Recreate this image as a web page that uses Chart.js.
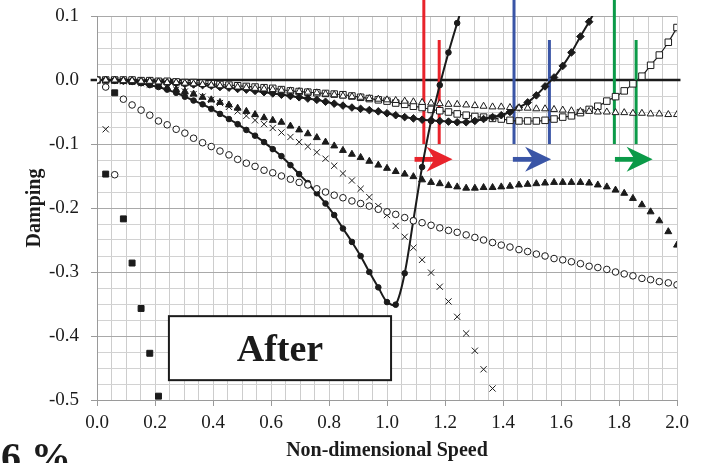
<!DOCTYPE html>
<html>
<head>
<meta charset="utf-8">
<script src="https://cdn.jsdelivr.net/npm/chart.js@4.4.0/dist/chart.umd.min.js"></script>
<style>
  html, body { margin: 0; padding: 0; background: #fff; }
  #wrap { width: 704px; height: 463px; }
</style>
</head>
<body>
<div id="wrap"><canvas id="chart" width="704" height="463"></canvas></div>
<script>
// ===== DATA =====
const speeds = [
  0, 0.030, 0.061, 0.091, 0.121, 0.152, 0.182, 0.212, 0.242, 0.273,
  0.303, 0.333, 0.364, 0.394, 0.424, 0.455, 0.485, 0.515, 0.545, 0.576,
  0.606, 0.636, 0.667, 0.697, 0.727, 0.758, 0.788, 0.818, 0.848, 0.879,
  0.909, 0.939, 0.970, 1.000, 1.030, 1.061, 1.091, 1.121, 1.152, 1.182,
  1.212, 1.242, 1.273, 1.303, 1.333, 1.364, 1.394, 1.424, 1.455, 1.485,
  1.515, 1.545, 1.576, 1.606, 1.636, 1.667, 1.697, 1.727, 1.758, 1.788,
  1.818, 1.848, 1.879, 1.909, 1.939, 1.970, 2.000
];

// filled squares (no line)
const squareFilled = [null, -0.147, -0.020, -0.217, -0.286, -0.357, -0.427, -0.494];

// open circles (no line)
const circleOpen = [
  0, -0.011, -0.148, -0.030, -0.039, -0.047, -0.055, -0.064, -0.070, -0.077,
  -0.083, -0.091, -0.098, -0.104, -0.111, -0.117, -0.124, -0.130, -0.135, -0.141,
  -0.145, -0.150, -0.155, -0.160, -0.164, -0.170, -0.175, -0.180, -0.184, -0.189,
  -0.193, -0.197, -0.202, -0.206, -0.210, -0.215, -0.220, -0.223, -0.227, -0.231,
  -0.235, -0.238, -0.242, -0.246, -0.250, -0.254, -0.258, -0.261, -0.265, -0.268,
  -0.272, -0.275, -0.279, -0.281, -0.284, -0.287, -0.291, -0.293, -0.296, -0.300,
  -0.303, -0.306, -0.310, -0.312, -0.315, -0.317, -0.320
];

// crosses (no line)
const crosses = [
  0, -0.077, -0.001, -0.002, -0.003, -0.005, -0.007, -0.009, -0.012, -0.015,
  -0.018, -0.022, -0.026, -0.031, -0.036, -0.042, -0.049, -0.056, -0.063, -0.069,
  -0.075, -0.082, -0.089, -0.097, -0.104, -0.113, -0.123, -0.134, -0.146, -0.157,
  -0.170, -0.183, -0.197, -0.211, -0.228, -0.245, -0.262, -0.281, -0.301, -0.323,
  -0.346, -0.370, -0.396, -0.423, -0.452, -0.482
];

// filled triangles (no line)
const triangleFilled = [
  0, 0, -0.001, -0.002, -0.003, -0.004, -0.006, -0.008, -0.012, -0.015,
  -0.018, -0.022, -0.027, -0.031, -0.035, -0.039, -0.044, -0.049, -0.054, -0.059,
  -0.063, -0.066, -0.072, -0.078, -0.084, -0.090, -0.097, -0.103, -0.110, -0.116,
  -0.121, -0.127, -0.133, -0.138, -0.143, -0.147, -0.151, -0.156, -0.160, -0.162,
  -0.165, -0.167, -0.169, -0.169, -0.168, -0.168, -0.167, -0.166, -0.164, -0.163,
  -0.162, -0.161, -0.160, -0.160, -0.160, -0.160, -0.161, -0.164, -0.167, -0.172,
  -0.177, -0.185, -0.195, -0.206, -0.220, -0.237, -0.258
];

// filled circles (smoothed line)
const circleFilled = [
  0, 0, -0.001, -0.002, -0.003, -0.005, -0.008, -0.011, -0.015, -0.020,
  -0.026, -0.032, -0.038, -0.045, -0.053, -0.061, -0.069, -0.078, -0.087, -0.097,
  -0.108, -0.119, -0.133, -0.147, -0.161, -0.177, -0.193, -0.211, -0.232, -0.253,
  -0.275, -0.300, -0.324, -0.347, -0.351, -0.302, -0.219, -0.136, -0.064, -0.008,
  0.043, 0.089, 0.135
];

// filled diamonds (smoothed line)
const diamondFilled = [
  0, 0, 0, -0.001, -0.001, -0.002, -0.002, -0.003, -0.004, -0.005,
  -0.006, -0.007, -0.008, -0.009, -0.011, -0.012, -0.014, -0.015, -0.017, -0.019,
  -0.021, -0.023, -0.025, -0.027, -0.029, -0.031, -0.034, -0.037, -0.040, -0.043,
  -0.045, -0.047, -0.049, -0.052, -0.055, -0.058, -0.060, -0.062, -0.063, -0.064,
  -0.065, -0.066, -0.066, -0.064, -0.061, -0.058, -0.055, -0.050, -0.043, -0.035,
  -0.024, -0.010, 0.004, 0.022, 0.043, 0.068, 0.091, 0.116
];

// open squares (smoothed line)
const squareOpen = [
  0, 0, 0, 0, 0, -0.001, -0.001, -0.002, -0.002, -0.003,
  -0.004, -0.004, -0.005, -0.006, -0.007, -0.008, -0.009, -0.010, -0.011, -0.012,
  -0.013, -0.015, -0.017, -0.018, -0.019, -0.020, -0.021, -0.022, -0.023, -0.025,
  -0.027, -0.029, -0.031, -0.033, -0.036, -0.038, -0.041, -0.043, -0.046, -0.048,
  -0.050, -0.053, -0.055, -0.057, -0.058, -0.060, -0.061, -0.063, -0.064, -0.064,
  -0.064, -0.063, -0.061, -0.058, -0.056, -0.051, -0.046, -0.041, -0.033, -0.026,
  -0.017, -0.006, 0.006, 0.023, 0.039, 0.059, 0.082
];

// open triangles (no line)
const triangleOpen = [
  0, 0, 0, -0.001, -0.001, -0.002, -0.002, -0.003, -0.004, -0.004,
  -0.005, -0.006, -0.007, -0.008, -0.009, -0.010, -0.011, -0.012, -0.013, -0.014,
  -0.015, -0.016, -0.017, -0.018, -0.019, -0.020, -0.022, -0.023, -0.025, -0.026,
  -0.027, -0.029, -0.030, -0.031, -0.032, -0.033, -0.034, -0.035, -0.036, -0.037,
  -0.038, -0.038, -0.039, -0.040, -0.041, -0.042, -0.042, -0.043, -0.044, -0.044,
  -0.045, -0.045, -0.046, -0.047, -0.048, -0.049, -0.049, -0.050, -0.050, -0.051,
  -0.051, -0.052, -0.052, -0.053, -0.053, -0.054, -0.054
];

// markers drawn over the plot (speed values)
const redLines = [1.127, 1.180];
const blueLines = [1.438, 1.560];
const greenLines = [1.784, 1.859];
const arrowSpans = [[1.095, 1.226], [1.434, 1.566], [1.786, 1.916]];
const arrowColors = ['#e8232b', '#3a55a6', '#0b9a48'];

// ===== STYLE =====
const INK = '#1b1b1b';
const SERIF = '"Liberation Serif", "Times New Roman", serif';

const toPoints = vals => speeds
  .map((x, i) => ({ x, y: vals[i] }))
  .filter(p => p.y !== null && p.y !== undefined);

function markers(data, style, radius, fill, order) {
  return {
    data: toPoints(data), showLine: false, order,
    pointStyle: style, pointRadius: radius,
    pointBackgroundColor: fill, pointBorderColor: INK, pointBorderWidth: 1,
    borderColor: INK
  };
}

function curve(data, style, radius, fill, lineWidth, order) {
  return {
    data: toPoints(data), showLine: true, order,
    borderColor: INK, borderWidth: lineWidth, tension: 0.3,
    pointStyle: style, pointRadius: radius,
    pointBackgroundColor: fill, pointBorderColor: INK, pointBorderWidth: 1
  };
}

const isMult = (v, step) => Math.abs(v / step - Math.round(v / step)) < 1e-6;

// ===== OVERLAY PLUGIN =====
const overlays = {
  id: 'overlays',
  beforeDatasetsDraw(chart) {
    const { ctx, scales: { x, y } } = chart;
    ctx.save();
    // thick zero line
    ctx.strokeStyle = INK;
    ctx.lineWidth = 2.6;
    ctx.beginPath();
    ctx.moveTo(x.getPixelForValue(-0.022), y.getPixelForValue(0));
    ctx.lineTo(x.getPixelForValue(2.012), y.getPixelForValue(0));
    ctx.stroke();

    // coloured onset lines: tall one from top edge, short one from 0.0625
    const groups = [redLines, blueLines, greenLines];
    groups.forEach((pair, gi) => {
      ctx.strokeStyle = arrowColors[gi];
      ctx.lineWidth = 3;
      pair.forEach((v, j) => {
        const px = x.getPixelForValue(v);
        ctx.beginPath();
        ctx.moveTo(px, j === 0 ? 0 : y.getPixelForValue(0.0625));
        ctx.lineTo(px, y.getPixelForValue(-0.1));
        ctx.stroke();
      });
    });

    // arrows
    const ay = y.getPixelForValue(-0.124);
    arrowSpans.forEach(([a, b], i) => {
      const x0 = x.getPixelForValue(a), x1 = x.getPixelForValue(b);
      ctx.fillStyle = arrowColors[i];
      ctx.fillRect(x0, ay - 2.4, (x1 - 16) - x0, 4.8);
      ctx.beginPath();
      ctx.moveTo(x1, ay);
      ctx.lineTo(x1 - 26, ay - 12.5);
      ctx.lineTo(x1 - 18, ay);
      ctx.lineTo(x1 - 26, ay + 12.5);
      ctx.closePath();
      ctx.fill();
    });
    ctx.restore();
  },
  afterDraw(chart) {
    const { ctx, scales: { x, y } } = chart;
    ctx.save();
    // "After" box
    const bx0 = x.getPixelForValue(0.248), bx1 = x.getPixelForValue(1.014);
    const by0 = y.getPixelForValue(-0.369), by1 = y.getPixelForValue(-0.469);
    ctx.fillStyle = '#fff';
    ctx.fillRect(bx0, by0, bx1 - bx0, by1 - by0);
    ctx.strokeStyle = INK;
    ctx.lineWidth = 2;
    ctx.strokeRect(bx0, by0, bx1 - bx0, by1 - by0);
    ctx.fillStyle = INK;
    ctx.font = 'bold 38px ' + SERIF;
    ctx.textAlign = 'center';
    ctx.textBaseline = 'alphabetic';
    ctx.fillText('After', (bx0 + bx1) / 2, (by0 + by1) / 2 + 12.5);

    // cut-off percentage label at the bottom left
    ctx.font = 'bold 40px ' + SERIF;
    ctx.textAlign = 'left';
    ctx.fillText('6 %', 1, 470);
    ctx.restore();
  }
};

// ===== CHART =====
new Chart(document.getElementById('chart'), {
  type: 'line',
  data: {
    datasets: [
      markers(circleOpen, 'circle', 3.3, '#fff', 1),
      markers(triangleOpen, 'triangle', 4, '#fff', 2),
      markers(crosses, 'crossRot', 4.4, INK, 3),
      markers(triangleFilled, 'triangle', 4, INK, 4),
      markers(squareFilled, 'rect', 4.2, INK, 5),
      curve(circleFilled, 'circle', 2.8, INK, 2, 6),
      curve(diamondFilled, 'rectRot', 3.8, INK, 2, 7),
      curve(squareOpen, 'rect', 4.6, '#fff', 1.2, 8)
    ]
  },
  options: {
    responsive: false,
    animation: false,
    devicePixelRatio: 1,
    layout: { padding: { top: 16, right: 27, left: 0, bottom: 0 } },
    plugins: { legend: { display: false }, tooltip: { enabled: false } },
    scales: {
      x: {
        type: 'linear', min: 0, max: 2,
        afterFit: s => { s.height = 63; s.paddingLeft = 0; s.paddingRight = 0; },
        ticks: {
          stepSize: 0.05, maxTicksLimit: 100, autoSkip: false, maxRotation: 0,
          padding: 6, color: INK,
          font: { family: SERIF, size: 19 },
          callback: v => isMult(v, 0.2) ? (Math.round(v * 10) / 10).toFixed(1) : ''
        },
        grid: {
          color: '#cdcdcd', lineWidth: 1, tickLength: 6,
          tickColor: c => (c.tick && isMult(c.tick.value, 0.2)) ? '#9a9a9a' : 'rgba(0,0,0,0)'
        },
        border: { color: '#9a9a9a', width: 1 },
        title: {
          display: true, text: 'Non-dimensional Speed', color: INK,
          font: { family: SERIF, size: 20, weight: 'bold' },
          padding: { top: 0, bottom: 0 }
        }
      },
      y: {
        type: 'linear', min: -0.5, max: 0.1,
        afterFit: s => { s.width = 97; s.paddingTop = 0; s.paddingBottom = 0; },
        ticks: {
          stepSize: 0.025, maxTicksLimit: 100, autoSkip: false,
          padding: 12, color: INK,
          font: { family: SERIF, size: 19 },
          callback: v => isMult(v, 0.1) ? (Math.round(v * 10) / 10).toFixed(1) : ''
        },
        grid: {
          color: c => (c.tick && isMult(c.tick.value, 0.1)) ? '#a9a9a9' : '#d2d2d2',
          lineWidth: 1, tickLength: 6,
          tickColor: c => (c.tick && isMult(c.tick.value, 0.1)) ? '#9a9a9a' : 'rgba(0,0,0,0)'
        },
        border: { color: '#9a9a9a', width: 1 },
        title: {
          display: true, text: 'Damping', color: INK,
          font: { family: SERIF, size: 20, weight: 'bold' },
          padding: { top: 23, bottom: 0 }
        }
      }
    }
  },
  plugins: [overlays]
});
</script>
</body>
</html>
